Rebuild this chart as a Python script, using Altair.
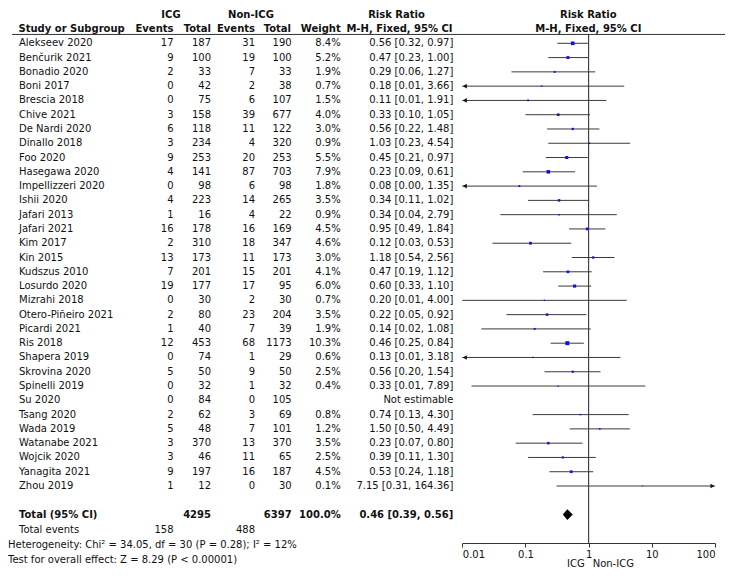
import altair as alt
import pandas as pd

studies = ["Alekseev 2020", "Benčurik 2021", "Bonadio 2020", "Boni 2017", "Brescia 2018",
           "Chive 2021", "De Nardi 2020", "Dinallo 2018", "Foo 2020", "Hasegawa 2020",
           "Impellizzeri 2020", "Ishii 2020", "Jafari 2013", "Jafari 2021", "Kim 2017",
           "Kin 2015", "Kudszus 2010", "Losurdo 2020", "Mizrahi 2018", "Otero-Piñeiro 2021",
           "Picardi 2021", "Ris 2018", "Shapera 2019", "Skrovina 2020", "Spinelli 2019",
           "Su 2020", "Tsang 2020", "Wada 2019", "Watanabe 2021", "Wojcik 2020",
           "Yanagita 2021", "Zhou 2019"]
icg_events = [17, 9, 2, 0, 0, 3, 6, 3, 9, 4, 0, 4, 1, 16, 2, 13, 7, 19, 0, 2, 1, 12, 0, 5, 0, 0, 2, 5, 3, 3, 9, 1]
icg_total = [187, 100, 33, 42, 75, 158, 118, 234, 253, 141, 98, 223, 16, 178, 310, 173, 201, 177, 30, 80,
             40, 453, 74, 50, 32, 84, 62, 48, 370, 46, 197, 12]
non_events = [31, 19, 7, 2, 6, 39, 11, 4, 20, 87, 6, 14, 4, 16, 18, 11, 15, 17, 2, 23, 7, 68, 1, 9, 1, 0,
              3, 7, 13, 11, 16, 0]
non_total = [190, 100, 33, 38, 107, 677, 122, 320, 253, 703, 98, 265, 22, 169, 347, 173, 201, 95, 30, 204,
             39, 1173, 29, 50, 32, 105, 69, 101, 370, 65, 187, 30]
weights = [8.4, 5.2, 1.9, 0.7, 1.5, 4.0, 3.0, 0.9, 5.5, 7.9, 1.8, 3.5, 0.9, 4.5, 4.6, 3.0, 4.1, 6.0, 0.7,
           3.5, 1.9, 10.3, 0.6, 2.5, 0.4, None, 0.8, 1.2, 3.5, 2.5, 4.5, 0.1]
rr = [0.56, 0.47, 0.29, 0.18, 0.11, 0.33, 0.56, 1.03, 0.45, 0.23, 0.08, 0.34, 0.34, 0.95, 0.12, 1.18, 0.47,
      0.60, 0.20, 0.22, 0.14, 0.46, 0.13, 0.56, 0.33, None, 0.74, 1.50, 0.23, 0.39, 0.53, 7.15]
ci_low = [0.32, 0.23, 0.06, 0.009, 0.006, 0.10, 0.22, 0.23, 0.21, 0.09, 0.004, 0.11, 0.04, 0.49, 0.03, 0.54,
          0.19, 0.33, 0.0100, 0.05, 0.02, 0.25, 0.0056, 0.20, 0.014, None, 0.13, 0.50, 0.07, 0.11, 0.24, 0.31]
ci_high = [0.97, 1.00, 1.27, 3.66, 1.91, 1.05, 1.48, 4.54, 0.97, 0.61, 1.35, 1.02, 2.79, 1.84, 0.53, 2.56,
           1.12, 1.10, 4.00, 0.92, 1.08, 0.84, 3.18, 1.54, 7.89, None, 4.30, 4.49, 0.80, 1.30, 1.18, 164.36]

total_icg, total_non = 4295, 6397
events_icg, events_non = 158, 488
pooled = [0.39, 0.46, 0.56]
hetero_text = "Heterogeneity: Chi² = 34.05, df = 30 (P = 0.28); I² = 12%"
overall_text = "Test for overall effect: Z = 8.29 (P < 0.00001)"
axis_ticks = [0.01, 0.1, 1, 10, 100]

FONT = "DejaVu Sans"
FS = 10
TXT = "#111111"

df = pd.DataFrame({
    "row": list(range(len(studies))),
    "study": studies,
    "e1": [str(v) for v in icg_events],
    "n1": [str(v) for v in icg_total],
    "e2": [str(v) for v in non_events],
    "n2": [str(v) for v in non_total],
    "w": weights,
    "rr": rr,
    "lo": ci_low,
    "hi": ci_high,
})
df["w_txt"] = [f"{w:.1f}%" if w is not None else "" for w in weights]
df["ci_txt"] = [f"{r:.2f} [{l:.2f}, {h:.2f}]" if r is not None else "Not estimable"
                for r, l, h in zip(rr, ci_low, ci_high)]

est = df.dropna(subset=["rr"]).copy()
est["w"] = est["w"].astype(float)
est["lo_c"] = est["lo"].clip(lower=0.01)
est["hi_c"] = est["hi"].clip(upper=100)

yscale = alt.Scale(domain=[0, 31], range=[35.3, 478.0], nice=False, zero=False)
xscale = alt.Scale(type="log", domain=[0.01, 100], range=[454.3, 707], nice=False)


def col(field, xpx, align):
    return alt.Chart(df).mark_text(align=align, baseline="middle", font=FONT, fontSize=FS,
                                   color=TXT).encode(
        x=alt.value(xpx), y=alt.Y("row:Q", scale=yscale, axis=None), text=f"{field}:N")


def label(txt, xpx, row, align="left", bold=False):
    return alt.Chart(pd.DataFrame({"t": [txt], "r": [row]})).mark_text(
        align=align, baseline="middle", font=FONT, fontSize=FS,
        fontWeight="bold" if bold else "normal", color=TXT).encode(
        x=alt.value(xpx), y=alt.Y("r:Q", scale=yscale, axis=None), text="t:N")


layers = []
# header
H1, H2, HL = -1.98, -0.98, -0.62
layers += [
    label("ICG", 163, H1, "center", True),
    label("Non-ICG", 243, H1, "center", True),
    label("Risk Ratio", 388.5, H1, "center", True),
    label("Risk Ratio", 580.3, H1, "center", True),
    label("Study or Subgroup", 10.5, H2, "left", True),
    label("Events", 165.5, H2, "right", True),
    label("Total", 203, H2, "right", True),
    label("Events", 247, H2, "right", True),
    label("Total", 283, H2, "right", True),
    label("Weight", 332.7, H2, "right", True),
    label("M-H, Fixed, 95% CI", 391.5, H2, "center", True),
    label("M-H, Fixed, 95% CI", 580.3, H2, "center", True),
]
layers.append(alt.Chart(pd.DataFrame({"y": [HL]})).mark_rule(color="#333333", strokeWidth=1).encode(
    x=alt.value(4), x2=alt.value(717), y=alt.Y("y:Q", scale=yscale, axis=None)))

# table body
layers += [
    col("study", 11, "left"),
    col("e1", 165.5, "right"),
    col("n1", 203, "right"),
    col("e2", 247, "right"),
    col("n2", 283.7, "right"),
    col("w_txt", 332.7, "right"),
    col("ci_txt", 445.3, "right"),
]

# footer
TR = 33
layers += [
    label("Total (95% CI)", 11, TR, "left", True),
    label(str(total_icg), 203, TR, "right", True),
    label(str(total_non), 283.7, TR, "right", True),
    label("100.0%", 332.7, TR, "right", True),
    label(f"{pooled[1]:.2f} [{pooled[0]:.2f}, {pooled[2]:.2f}]", 445.3, TR, "right", True),
    label("Total events", 11, 34.1),
    label(str(events_icg), 165.5, 34.1, "right"),
    label(str(events_non), 247, 34.1, "right"),
    label(hetero_text, 0, 35.15),
    label(overall_text, 0, 36.2),
]

# vertical line of no effect
layers.append(alt.Chart(pd.DataFrame({"x": [1], "y": [HL], "y2": [35.0]})).mark_rule(
    color="#222222", strokeWidth=1).encode(
    x=alt.X("x:Q", scale=xscale), y=alt.Y("y:Q", scale=yscale, axis=None), y2="y2:Q"))

# CI lines with axis
layers.append(alt.Chart(est).mark_rule(color="#3a3a3a", strokeWidth=1).encode(
    x=alt.X("lo_c:Q", scale=xscale, title=None,
            axis=alt.Axis(values=axis_ticks, labelExpr="datum.value", grid=False,
                          domainColor="#333333", tickColor="#333333", tickSize=4,
                          labelFont=FONT, labelFontSize=FS, labelColor=TXT, labelPadding=2)),
    x2="hi_c:Q",
    y=alt.Y("row:Q", scale=yscale, axis=None)))

# arrows for clipped intervals
layers.append(alt.Chart(est[est["lo"] < 0.0099]).mark_point(
    shape="triangle-left", filled=True, size=22, color="#111111", opacity=1, xOffset=2.5).encode(
    x=alt.X("lo_c:Q", scale=xscale), y=alt.Y("row:Q", scale=yscale, axis=None)))
layers.append(alt.Chart(est[est["hi"] > 100]).mark_point(
    shape="triangle-right", filled=True, size=22, color="#111111", opacity=1, xOffset=-2.5).encode(
    x=alt.X("hi_c:Q", scale=xscale), y=alt.Y("row:Q", scale=yscale, axis=None)))

# study squares
layers.append(alt.Chart(est).mark_square(filled=True, color="#1010e0", opacity=1).encode(
    x=alt.X("rr:Q", scale=xscale), y=alt.Y("row:Q", scale=yscale, axis=None),
    size=alt.Size("w:Q", scale=alt.Scale(domain=[0, 10.3], range=[1, 16]), legend=None)))

# pooled diamond
half = 0.375
dia = pd.DataFrame({"x": pooled, "y1": [TR, TR - half, TR], "y2": [TR, TR + half, TR]})
layers.append(alt.Chart(dia).mark_area(orient="vertical", color="black", opacity=1).encode(
    x=alt.X("x:Q", scale=xscale), y=alt.Y("y1:Q", scale=yscale, axis=None), y2="y2:Q"))

# favours labels
fav = pd.DataFrame({"x": [1]})
layers.append(alt.Chart(fav).mark_text(align="right", baseline="middle", dx=-4, font=FONT,
                                       fontSize=FS, color=TXT, text="ICG").encode(
    x=alt.X("x:Q", scale=xscale), y=alt.value(556)))
layers.append(alt.Chart(fav).mark_text(align="left", baseline="middle", dx=4, font=FONT,
                                       fontSize=FS, color=TXT, text="Non-ICG").encode(
    x=alt.X("x:Q", scale=xscale), y=alt.value(556)))

chart = alt.layer(*layers).properties(width=719, height=535, padding=0).configure_view(stroke=None)
chart.save("out.html", embed_options={"renderer": "svg", "actions": False})
